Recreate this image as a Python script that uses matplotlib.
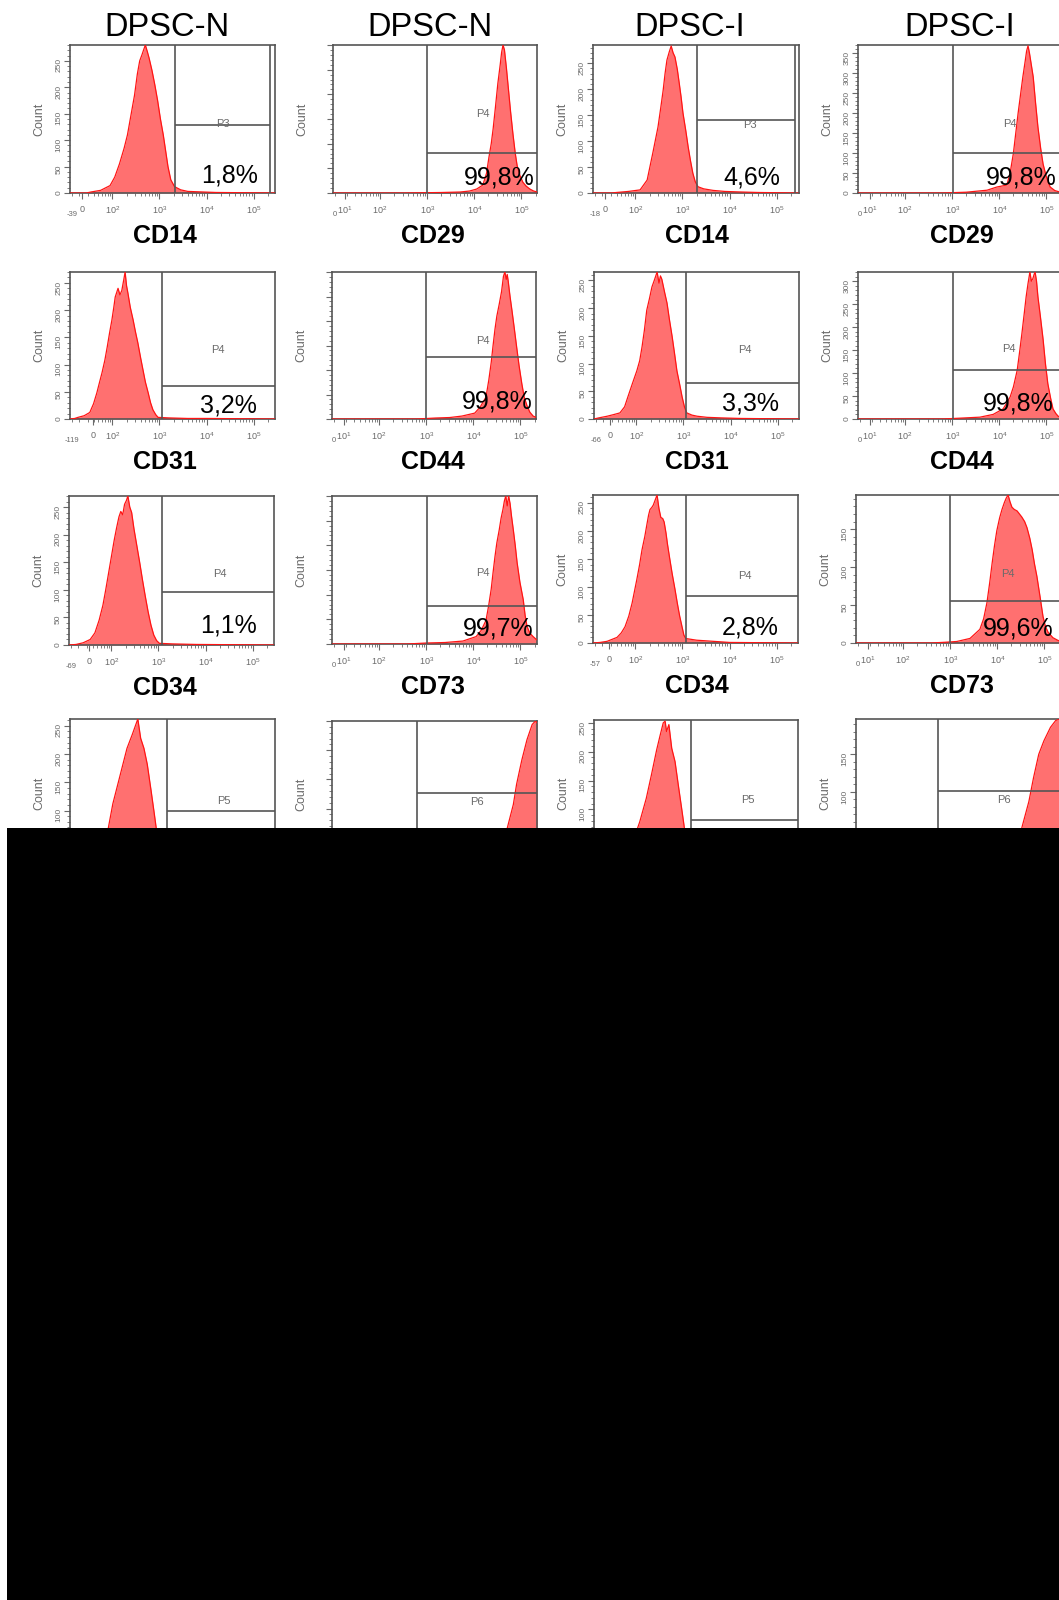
import matplotlib
matplotlib.use("Agg")
import matplotlib.pyplot as plt
import numpy as np
from matplotlib.patches import Rectangle
from matplotlib.ticker import FixedLocator, FixedFormatter, MultipleLocator, NullFormatter

plt.rcParams['font.family'] = ['Liberation Sans', 'DejaVu Sans']
plt.rcParams['mathtext.fontset'] = 'custom'
plt.rcParams['mathtext.rm'] = 'Liberation Sans'
plt.rcParams['mathtext.it'] = 'Liberation Sans:italic'
plt.rcParams['mathtext.bf'] = 'Liberation Sans:bold'

# ---- data: x in decades (log10 fluorescence), y in events ----
groups = ['DPSC-N', 'DPSC-N', 'DPSC-I', 'DPSC-I']
markers = [['CD14', 'CD29', 'CD14', 'CD29'],
           ['CD31', 'CD44', 'CD31', 'CD44'],
           ['CD34', 'CD73', 'CD34', 'CD73'],
           ['', '', '', '']]
gates = [['P3', 'P4', 'P3', 'P4'],
         ['P4', 'P4', 'P4', 'P4'],
         ['P4', 'P4', 'P4', 'P4'],
         ['P5', 'P6', 'P5', 'P6']]
percents = [['1,8%', '99,8%', '4,6%', '99,8%'],
            ['3,2%', '99,8%', '3,3%', '99,8%'],
            ['1,1%', '99,7%', '2,8%', '99,6%'],
            ['', '', '', '']]
neg_labels = [['-39', '', '-18', ''],
              ['-119', '', '-66', ''],
              ['-69', '', '-57', ''],
              ['', '', '', '']]
zero_pos = [[1.35, None, 1.35, None],
            [1.59, None, 1.44, None],
            [1.52, None, 1.44, None],
            [1.45, None, 1.45, None]]
ymax = [[280, 300, 285, 370],
        [270, 300, 265, 320],
        [270, 300, 264, 195],
        [262, 250, 255, 197]]
gate_lo = [[3.33, 3.00, 3.31, 3.02],
           [3.05, 3.00, 3.05, 3.02],
           [3.07, 3.02, 3.07, 3.00],
           [3.17, 2.80, 3.16, 2.75]]
gate_level = [[129, 81, 141, 100],
              [61, 127, 65, 107],
              [96, 77, 84, 55],
              [99, 127, 81, 101]]
gate_hi = [[5.35, None, 5.39, None],
           [None, None, None, None],
           [None, None, None, None],
           [None, None, None, None]]

cd14_n_u = [1.10, 1.45, 1.55, 1.75, 1.95, 2.05, 2.15, 2.25, 2.32, 2.40, 2.47, 2.53, 2.58, 2.63, 2.66, 2.70,
            2.74, 2.78, 2.84, 2.90, 2.96, 3.02, 3.08, 3.13, 3.18, 3.24, 3.32, 3.45, 3.60, 3.90, 4.20, 5.45]
cd14_n_n = [0, 0, 2, 5, 14, 30, 55, 85, 110, 150, 185, 225, 250, 262, 270, 280,
            268, 255, 232, 205, 175, 140, 110, 80, 50, 25, 12, 6, 3, 2, 1, 0]

cd29_n_u = [1.00, 2.50, 3.30, 3.70, 3.90, 4.05, 4.18, 4.26, 4.31, 4.36, 4.40, 4.45, 4.50, 4.55, 4.58,
            4.61, 4.64, 4.68, 4.72, 4.77, 4.82, 4.87, 4.91, 4.97, 5.03, 5.10, 5.18, 5.26, 5.34]
cd29_n_n = [0, 0, 1, 2, 4, 8, 16, 40, 72, 100, 130, 175, 222, 260, 285,
            300, 290, 255, 215, 165, 120, 80, 55, 35, 22, 14, 8, 4, 2]

cd14_i_u = [1.10, 1.50, 1.60, 1.85, 2.10, 2.25, 2.37, 2.48, 2.54, 2.59, 2.63, 2.67, 2.72, 2.76, 2.80, 2.84,
            2.89, 2.93, 2.97, 3.01, 3.07, 3.12, 3.17, 3.22, 3.27, 3.33, 3.45, 3.65, 3.90, 4.22, 4.60, 5.45]
cd14_i_n = [0, 0, 1, 3, 6, 25, 77, 127, 165, 198, 230, 256, 272, 283, 270, 262,
            238, 212, 185, 154, 120, 89, 62, 38, 22, 12, 8, 5, 3, 2, 1, 0]

cd29_i_u = [1.00, 2.80, 3.30, 3.74, 3.95, 4.08, 4.16, 4.23, 4.30, 4.35, 4.40, 4.45, 4.50, 4.55,
            4.58, 4.61, 4.64, 4.68, 4.72, 4.77, 4.82, 4.88, 4.93, 5.00, 5.08, 5.18, 5.30]
cd29_i_n = [0, 0, 2, 7, 15, 18, 20, 50, 100, 150, 200, 245, 290, 330,
            355, 368, 350, 320, 290, 225, 165, 110, 72, 40, 15, 6, 2]

cd31_n_u = [1.10, 1.20, 1.27, 1.40, 1.52, 1.60, 1.67, 1.72, 1.78, 1.84, 1.89, 1.94, 1.99, 2.03, 2.06,
            2.09, 2.12, 2.16, 2.20, 2.24, 2.27, 2.30, 2.33, 2.38, 2.44, 2.49, 2.54, 2.60, 2.65, 2.70,
            2.76, 2.81, 2.86, 2.92, 2.97, 3.20, 3.60, 4.00, 5.45]
cd31_n_n = [0, 1, 3, 6, 12, 28, 48, 65, 85, 108, 132, 158, 182, 205, 224,
            232, 240, 228, 236, 255, 270, 245, 231, 205, 182, 160, 140, 112, 90, 68,
            48, 30, 17, 8, 3, 2, 1, 1, 0]

cd44_n_u = [1.00, 2.80, 3.20, 3.50, 3.76, 4.03, 4.15, 4.27, 4.33, 4.38, 4.42, 4.46, 4.50, 4.55, 4.60,
            4.64, 4.67, 4.70, 4.72, 4.74, 4.78, 4.82, 4.87, 4.92, 4.97, 5.03, 5.08, 5.14, 5.20, 5.27, 5.34]
cd44_n_n = [0, 0, 2, 3, 6, 12, 25, 45, 80, 115, 150, 183, 210, 234, 260,
            291, 300, 285, 295, 282, 250, 222, 185, 147, 110, 72, 45, 27, 14, 6, 3]

cd31_i_u = [1.10, 1.20, 1.38, 1.52, 1.65, 1.75, 1.82, 1.92, 2.01, 2.07, 2.12, 2.17, 2.22, 2.28, 2.33,
            2.38, 2.44, 2.48, 2.51, 2.54, 2.60, 2.65, 2.70, 2.76, 2.81, 2.86, 2.92, 2.97, 3.02, 3.07,
            3.18, 3.29, 3.50, 3.80, 4.20, 5.45]
cd31_i_n = [0, 2, 5, 8, 11, 22, 40, 65, 87, 105, 130, 160, 196, 218, 238,
            250, 265, 245, 258, 252, 228, 209, 180, 148, 118, 87, 62, 40, 22, 11,
            7, 5, 3, 2, 1, 0]

cd44_i_u = [1.00, 2.80, 3.20, 3.59, 3.87, 4.08, 4.16, 4.23, 4.30, 4.38, 4.43, 4.48, 4.53, 4.57, 4.61,
            4.65, 4.68, 4.71, 4.74, 4.76, 4.79, 4.82, 4.87, 4.93, 4.98, 5.03, 5.09, 5.14, 5.20, 5.25, 5.34]
cd44_i_n = [0, 0, 2, 4, 10, 22, 35, 48, 70, 106, 145, 186, 230, 266, 295,
            320, 300, 305, 315, 320, 300, 266, 225, 173, 120, 77, 45, 22, 12, 6, 3]

cd34_n_u = [1.10, 1.25, 1.40, 1.55, 1.65, 1.74, 1.82, 1.88, 1.94, 2.00, 2.06, 2.11, 2.16, 2.20, 2.24,
            2.28, 2.32, 2.35, 2.39, 2.43, 2.48, 2.54, 2.60, 2.66, 2.72, 2.78, 2.84, 2.90, 2.96, 3.02,
            3.30, 3.80, 5.45]
cd34_n_n = [0, 1, 4, 10, 22, 45, 72, 100, 130, 160, 190, 212, 232, 242, 236,
            255, 262, 270, 250, 240, 210, 180, 150, 118, 88, 60, 36, 18, 8, 3,
            2, 1, 0]

cd73_n_u = [1.00, 2.60, 3.00, 3.40, 3.78, 4.06, 4.17, 4.27, 4.33, 4.38, 4.42, 4.46, 4.50, 4.55, 4.59,
            4.63, 4.66, 4.69, 4.72, 4.75, 4.78, 4.81, 4.85, 4.89, 4.93, 4.99, 5.06, 5.10, 5.14, 5.20,
            5.27, 5.34]
cd73_n_n = [0, 0, 2, 3, 6, 15, 28, 48, 80, 111, 145, 177, 205, 231, 255,
            273, 290, 300, 280, 300, 285, 260, 231, 200, 165, 125, 90, 58, 36, 22,
            15, 9]

cd34_i_u = [1.10, 1.25, 1.40, 1.61, 1.70, 1.78, 1.86, 1.93, 1.98, 2.03, 2.09, 2.14, 2.20, 2.25, 2.28,
            2.31, 2.35, 2.38, 2.42, 2.46, 2.50, 2.54, 2.58, 2.61, 2.65, 2.68, 2.73, 2.78, 2.84, 2.89,
            2.94, 2.99, 3.03, 3.07, 3.30, 3.65, 4.00, 5.45]
cd34_i_n = [0, 1, 3, 10, 18, 29, 48, 71, 92, 113, 140, 166, 190, 214, 228,
            238, 242, 246, 255, 264, 240, 224, 222, 216, 196, 177, 150, 124, 96, 71,
            48, 29, 14, 8, 5, 3, 1, 0]

cd73_i_u = [1.00, 2.60, 2.90, 3.14, 3.42, 3.63, 3.71, 3.78, 3.84, 3.89, 3.94, 3.99, 4.05, 4.10, 4.15,
            4.19, 4.23, 4.27, 4.31, 4.36, 4.42, 4.47, 4.52, 4.58, 4.63, 4.69, 4.74, 4.79, 4.84, 4.91,
            4.97, 5.02, 5.08, 5.18, 5.27, 5.34]
cd73_i_n = [0, 0, 1, 2, 6, 18, 32, 53, 80, 105, 128, 148, 165, 176, 185,
            191, 195, 186, 179, 176, 174, 170, 166, 160, 152, 138, 123, 104, 88, 60,
            35, 22, 14, 7, 4, 2]

p5_n_u = [1.10, 1.30, 1.50, 1.70, 1.90, 2.01, 2.16, 2.31, 2.42, 2.54, 2.60, 2.67, 2.74, 2.82, 2.89,
          2.94, 3.05, 3.15, 3.35, 5.45]
p5_n_n = [0, 2, 8, 25, 63, 112, 161, 210, 234, 262, 228, 210, 182, 136, 94,
          63, 25, 8, 3, 0]

p6_n_u = [1.00, 3.00, 3.60, 4.00, 4.35, 4.70, 4.85, 4.92, 5.03, 5.14, 5.25, 5.32, 5.36]
p6_n_n = [0, 1, 3, 8, 25, 60, 107, 142, 183, 218, 244, 250, 246]

p5_i_u = [1.10, 1.30, 1.50, 1.70, 1.90, 2.07, 2.21, 2.32, 2.43, 2.50, 2.57, 2.61, 2.64, 2.69, 2.75,
          2.82, 2.89, 2.96, 3.02, 3.12, 3.35, 5.45]
p5_i_n = [0, 2, 6, 15, 38, 78, 119, 160, 203, 227, 250, 253, 235, 247, 206,
          183, 142, 102, 67, 25, 5, 0]

p6_i_u = [1.00, 3.00, 3.60, 4.00, 4.28, 4.52, 4.67, 4.77, 4.88, 4.99, 5.13, 5.24, 5.33]
p6_i_n = [0, 1, 3, 8, 22, 52, 87, 119, 150, 168, 186, 195, 197]

hists = [[(cd14_n_u, cd14_n_n), (cd29_n_u, cd29_n_n), (cd14_i_u, cd14_i_n), (cd29_i_u, cd29_i_n)],
         [(cd31_n_u, cd31_n_n), (cd44_n_u, cd44_n_n), (cd31_i_u, cd31_i_n), (cd44_i_u, cd44_i_n)],
         [(cd34_n_u, cd34_n_n), (cd73_n_u, cd73_n_n), (cd34_i_u, cd34_i_n), (cd73_i_u, cd73_i_n)],
         [(p5_n_u, p5_n_n), (p6_n_u, p6_n_n), (p5_i_u, p5_i_n), (p6_i_u, p6_i_n)]]

# ---- layout (pixels of the 1059x1600 canvas) ----
W, H = 1059, 1600
PX_DEC = 47.1
boxes = [[(70, 45, 275, 193), (333, 45, 537, 193), (593, 45, 799, 193), (858, 45, 1062, 193)],
         [(70, 272, 275, 419), (332, 272, 536, 419), (594, 272, 799, 419), (858, 272, 1062, 419)],
         [(69, 496, 274, 645), (332, 496, 537, 644), (593, 495, 798, 643), (856, 495, 1060, 643)],
         [(70, 719, 275, 867), (332, 721, 537, 867), (594, 720, 798, 867), (856, 719, 1060, 867)]]
pct_px = [[(258, 176), (535, 177), (780, 177), (1057, 177)],
          [(257, 405), (533, 402), (779, 404), (1054, 404)],
          [(257, 626), (533, 628), (779, 627), (1054, 628)],
          [(0, 0)] * 4]
gname_px = [[(223, 124), (483, 114), (750, 125), (1010, 124)],
            [(218, 350), (483, 341), (745, 350), (1009, 349)],
            [(220, 574), (483, 573), (745, 576), (1008, 574)],
            [(224, 801), (477, 802), (748, 800), (1004, 800)]]
title_x = [167, 430, 690, 960]
xlabel_x = [165, 433, 697, 962]

FILL = '#ff7070'
EDGE = '#ff1414'
FRAME = '#555555'
GRAY = '#6a6a6a'

fig = plt.figure(figsize=(W / 100, H / 100), dpi=100)
fig.patch.set_facecolor('white')

for c in range(4):
    fig.text(title_x[c] / W, 1 - 27 / H, groups[c], ha='center', va='center', fontsize=23.5)

for r in range(4):
    for c in range(4):
        l, t, rt, b = boxes[r][c]
        neg_axis = (c % 2 == 0)
        u0 = 1.1 if neg_axis else 1.0
        ax = fig.add_axes([l / W, 1 - b / H, (rt - l) / W, (b - t) / H])
        xmax = u0 + (rt - l) / PX_DEC
        ax.set_xlim(u0, xmax)
        ax.set_ylim(0, ymax[r][c])

        u, n = hists[r][c]
        ax.fill_between(u, n, 0, color=FILL, lw=0, zorder=2)
        ax.plot(u, n, color=EDGE, lw=0.9, zorder=3)

        # gate
        g_end = gate_hi[r][c] if gate_hi[r][c] else xmax
        ax.axvline(gate_lo[r][c], color=FRAME, lw=1.2, zorder=4)
        ax.hlines(gate_level[r][c], gate_lo[r][c], g_end, color=FRAME, lw=1.2, zorder=4)
        if gate_hi[r][c]:
            ax.axvline(gate_hi[r][c], color=FRAME, lw=1.2, zorder=4)

        for s in ax.spines.values():
            s.set_color(FRAME)
            s.set_linewidth(1.2)

        # y axis
        ax.yaxis.set_major_locator(MultipleLocator(50))
        ax.yaxis.set_minor_locator(MultipleLocator(10))
        ax.tick_params(axis='y', which='major', length=4, width=0.8, color=GRAY,
                       labelsize=6, labelcolor=GRAY, labelrotation=90, pad=1.5)
        ax.tick_params(axis='y', which='minor', length=2.2, width=0.6, color=GRAY)
        if c == 1:
            ax.yaxis.set_major_formatter(NullFormatter())
        ax.text(-31 / (rt - l), 0.5, 'Count', transform=ax.transAxes, rotation=90,
                ha='center', va='center', fontsize=9, color=GRAY)

        # x axis (biexponential-like decades)
        if neg_axis:
            maj = [zero_pos[r][c], 2, 3, 4, 5]
            maj_lbl = ['0', '$10^2$', '$10^3$', '$10^4$', '$10^5$']
            low, low_lbl = [u0 + 0.05], [neg_labels[r][c]]
        else:
            maj = [1.25, 2, 3, 4, 5]
            maj_lbl = ['$10^1$', '$10^2$', '$10^3$', '$10^4$', '$10^5$']
            low, low_lbl = [1.04], ['0']
        small = [d + np.log10(k) for d in range(1, 6) for k in range(2, 10)
                 if u0 + 0.02 < d + np.log10(k) < xmax - 0.02]
        ax.xaxis.remove_overlapping_locs = False
        ax.xaxis.set_major_locator(FixedLocator(maj))
        ax.xaxis.set_major_formatter(FixedFormatter(maj_lbl))
        ax.xaxis.set_minor_locator(FixedLocator(low + small))
        ax.xaxis.set_minor_formatter(FixedFormatter(low_lbl + [''] * len(small)))
        ax.tick_params(axis='x', which='major', length=4.3, width=0.8, color=GRAY,
                       labelsize=6.5, labelcolor=GRAY, pad=4)
        ax.tick_params(axis='x', which='minor', length=2.5, width=0.6, color=GRAY,
                       labelsize=5.5, labelcolor=GRAY, pad=10.5)

        if markers[r][c]:
            fig.text(xlabel_x[c] / W, 1 - (b + 43) / H, markers[r][c], ha='center', va='center',
                     fontsize=18, fontweight='bold')
        if percents[r][c]:
            px, py = pct_px[r][c]
            fig.text(px / W, 1 - py / H, percents[r][c], ha='right', va='center', fontsize=18, zorder=5)
        gx, gy = gname_px[r][c]
        fig.text(gx / W, 1 - gy / H, gates[r][c], ha='center', va='center', fontsize=8, color=GRAY)

# lower part of the source image is blacked out
fig.add_artist(Rectangle((7 / W, 0), 1 - 7 / W, (H - 828) / H, transform=fig.transFigure,
                         facecolor='black', edgecolor='none', zorder=10))

fig.savefig('out.png', dpi=100)
